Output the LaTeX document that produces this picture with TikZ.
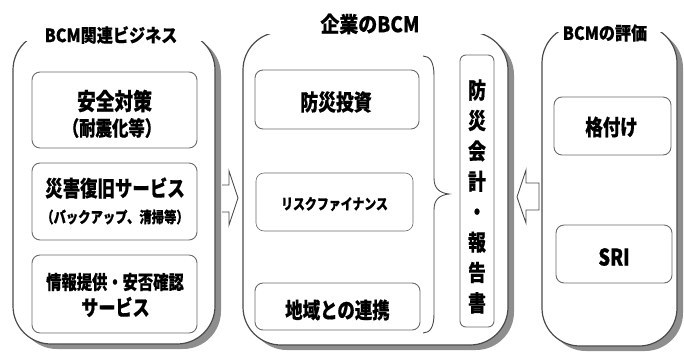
\documentclass[tikz,border=0pt]{standalone}
\usepackage{fontspec}
\newfontfamily\jp[FakeStretch=0.8,FakeBold=0.6]{Noto Sans CJK JP}
\newfontfamily\jpt[FakeStretch=0.88,FakeBold=0.3]{Noto Sans CJK JP}
\definecolor{panelline}{HTML}{4A4A4A}
\definecolor{boxline}{HTML}{6A6A6A}
\definecolor{shadowgray}{HTML}{8E8E8E}
\newcommand\fsz[1]{\fontsize{#1}{#1}\selectfont}
\begin{document}
\begin{tikzpicture}[x=1pt,y=-1pt,
  panel/.style={draw=panelline, line width=1.2pt, fill=white, rounded corners=38pt},
  pshadow/.style={fill=shadowgray, rounded corners=38pt},
  ibox/.style={draw=boxline, line width=0.9pt, fill=white, rounded corners=8pt, inner sep=0pt},
  lbl/.style={inner sep=0pt, text=black},
  ttl/.style={inner sep=0pt, text=black},
  barrow/.style={draw=panelline, line width=0.9pt, fill=white, line join=miter},
  brace/.style={draw=panelline, line width=0.9pt}]

\useasboundingbox (0,0) rectangle (684,354);

% ---- left panel
\begin{scope}
  \clip (0,41) rectangle (684,354);
  \fill[pshadow] (19,37) rectangle (221,349);
  \draw[panel] (13,32) rectangle (215,344);
\end{scope}
% ---- middle panel
\begin{scope}
  \clip (0,34) rectangle (684,354);
  \fill[pshadow] (249,37) rectangle (514,350);
  \draw[panel] (243,32) rectangle (508,345);
\end{scope}
% ---- right panel
\begin{scope}
  \clip (0,32) rectangle (684,354);
  \fill[pshadow] (548,30) rectangle (683,351);
  \draw[panel] (542,25) rectangle (677,346);
\end{scope}

% titles
\node[ttl, font=\jpt\bfseries\fsz{18.3}] (t1) at (111,35) {BCM関連ビジネス};
\node[ttl, font=\jpt\bfseries\fsz{21.5}] (t2) at (370,24) {企業のBCM};
\node[ttl, font=\jpt\bfseries\fsz{18.3}] (t3) at (605,33) {BCMの評価};

% block arrows
\draw[barrow] (222,185) -- (229,185) -- (229,171) -- (238,198) -- (229,225) -- (229,212) -- (222,212);
\draw[barrow] (539,183) -- (526,183) -- (526,170) -- (517,197) -- (526,223) -- (526,210) -- (539,210) -- cycle;

% left boxes
\node[ibox, minimum width=165pt, minimum height=76pt] (a1) at (114.5,110) {};
\node[ibox, minimum width=165pt, minimum height=77pt] (a2) at (114.5,201.5) {};
\node[ibox, minimum width=165pt, minimum height=78pt] (a3) at (114.5,294) {};
\node[lbl, font=\jp\bfseries\fsz{23.4}] (a1t1) at (114.5,101) {安全対策};
\node[lbl, font=\jp\bfseries\fsz{20.5}] (a1t2) at (112,128) {（耐震化等）};
\node[lbl, font=\jp\bfseries\fsz{21.8}] (a2t1) at (115,188) {災害復旧サービス};
\node[lbl, font=\jp\bfseries\fsz{15.4}] (a2t2) at (115,217) {（バックアップ、清掃等）};
\node[lbl, font=\jp\bfseries\fsz{19.1}] (a3t1) at (115,282) {情報提供・安否確認};
\node[lbl, font=\jp\bfseries\fsz{21.3}] (a3t2) at (115.5,307) {サービス};

% middle boxes
\node[ibox, minimum width=164pt, minimum height=59pt] (b1) at (337,99.5) {};
\node[ibox, line width=0.6pt, minimum width=157pt, minimum height=58pt] (b2) at (334.5,202) {};
\node[ibox, minimum width=165pt, minimum height=47pt] (b3) at (337.5,306.5) {};
\node[lbl, font=\jp\bfseries\fsz{22.3}] (b1t) at (336,102) {防災投資};
\node[lbl, font=\jp\bfseries\fsz{14.9}] (b2t) at (334.5,204) {リスクファイナンス};
\node[lbl, font=\jp\bfseries\fsz{21.8}] (b3t) at (337.5,310) {地域との連携};

% brace
\draw[brace] (423,56) .. controls (430,56) and (434,62) .. (434,76) -- (434,178)
  .. controls (434,189) and (440,193) .. (449,194)
  .. controls (440,195) and (434,199) .. (434,210) -- (434,314)
  .. controls (434,327) and (430,333) .. (423,333);

% vertical box
\node[ibox, rounded corners=6pt, minimum width=34pt, minimum height=272pt] (hk) at (477,191) {};
\node[lbl, align=center, font=\jp\bfseries\fontsize{22.3}{30.4}\selectfont] (hkt) at (477,196.5)
  {防\\災\\会\\計\\・\\報\\告\\書};

% right boxes
\node[ibox, minimum width=117pt, minimum height=58pt] (c1) at (612.5,126) {};
\node[ibox, minimum width=116pt, minimum height=58pt] (c2) at (614,254) {};
\node[lbl, font=\jp\bfseries\fsz{21.8}] (c1t) at (611.5,127) {格付け};
\node[lbl, font=\jp\bfseries\fsz{23}] (c2t) at (614,257) {SRI};
\end{tikzpicture}
\end{document}
